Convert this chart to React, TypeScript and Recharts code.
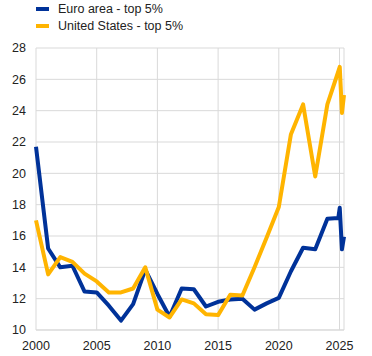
import React from 'react';
import { LineChart, Line, XAxis, YAxis, CartesianGrid } from 'recharts';

const years = [2000, 2001, 2002, 2003, 2004, 2005, 2006, 2007, 2008, 2009, 2010, 2011, 2012, 2013, 2014, 2015, 2016, 2017, 2018, 2019, 2020, 2021, 2022, 2023, 2024, 2024.9, 2025.02, 2025.2, 2025.37];
const euroArea = [21.7, 15.2, 14.0, 14.1, 12.45, 12.4, 11.55, 10.6, 11.65, 13.85, 12.3, 10.85, 12.65, 12.6, 11.5, 11.8, 11.95, 12.0, 11.3, 11.7, 12.05, 13.75, 15.25, 15.15, 17.1, 17.15, 17.8, 15.15, 15.95];
const unitedStates = [17.0, 13.55, 14.65, 14.35, 13.6, 13.1, 12.4, 12.4, 12.65, 14.0, 11.3, 10.8, 11.95, 11.7, 11.0, 10.95, 12.25, 12.2, 14.0, 15.9, 17.85, 22.5, 24.4, 19.8, 24.4, 26.5, 26.8, 23.85, 25.0];
const xTicks = [2000, 2005, 2010, 2015, 2020, 2025];
const yTicks = [10, 12, 14, 16, 18, 20, 22, 24, 26, 28];

const seriesInfo = [
  { key: 'ea', name: 'Euro area - top 5%', color: '#003299' },
  { key: 'us', name: 'United States - top 5%', color: '#FFB400' },
];

const data = years.map((y, i) => ({ year: y, ea: euroArea[i], us: unitedStates[i] }));

const font = 'Arial, "Liberation Sans", sans-serif';

export default function App() {
  return (
    <div style={{ position: 'absolute', left: 0, top: 0, width: 372, height: 356, background: '#fff' }}>
      <div style={{ position: 'absolute', left: 0, top: 0, fontFamily: font, fontSize: 12.5, color: '#222', zIndex: 2 }}>
        {seriesInfo.map((s) => (
          <div key={s.key} style={{ display: 'flex', alignItems: 'center', height: 17.5 }}>
            <span style={{ display: 'inline-block', width: 13, height: 4, background: s.color, marginLeft: 36, marginRight: 9 }} />
            <span>{s.name}</span>
          </div>
        ))}
      </div>
      <LineChart width={372} height={356} data={data} margin={{ top: 48, right: 28, bottom: 0, left: 0 }}>
        <CartesianGrid stroke="#d9d9d9" strokeWidth={1} vertical={true} horizontal={true} />
        <XAxis
          dataKey="year"
          type="number"
          domain={[2000, 2025.37]}
          ticks={xTicks}
          height={26}
          tickLine={false}
          axisLine={{ stroke: '#d9d9d9' }}
          tickMargin={5}
          tick={{ fontSize: 12.5, fill: '#222', fontFamily: font }}
        />
        <YAxis
          type="number"
          domain={[10, 28]}
          ticks={yTicks}
          width={36}
          tickLine={false}
          axisLine={false}
          tickMargin={4}
          tick={{ fontSize: 12.5, fill: '#222', fontFamily: font }}
        />
        {seriesInfo.map((s) => (
          <Line
            key={s.key}
            dataKey={s.key}
            name={s.name}
            stroke={s.color}
            strokeWidth={4}
            dot={false}
            isAnimationActive={false}
            strokeLinejoin="round"
          />
        ))}
      </LineChart>
    </div>
  );
}
